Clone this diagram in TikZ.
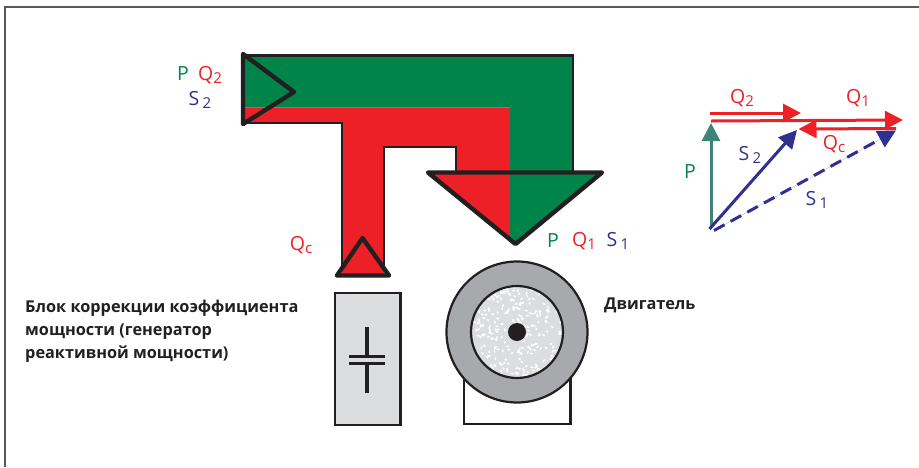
\documentclass[tikz,border=0pt]{standalone}
\usepackage{fontspec}
\setmainfont{Open Sans}
\usetikzlibrary{arrows.meta}
\definecolor{pipegreen}{HTML}{00844A}
\definecolor{pipered}{HTML}{ED2027}
\definecolor{vecblue}{HTML}{2E3192}
\definecolor{vecteal}{HTML}{3F8577}
\definecolor{inkblack}{HTML}{231F20}
\definecolor{boxgray}{HTML}{DCDDDF}
\definecolor{ringgray}{HTML}{A7A9AC}
\newcommand{\idx}[1]{\raisebox{-3pt}{\fontsize{15}{15}\selectfont #1}}
\tikzset{
  lbl/.style={inner sep=0pt,font=\fontsize{19.5}{20}\selectfont},
  note/.style={inner sep=0pt,align=left,anchor=north west,font=\fontsize{16.3}{23}\selectfont\bfseries,text=inkblack},
  edge/.style={line width=2.2pt,draw=inkblack},
  tip/.style={line width=4.4pt,draw=inkblack,line join=round,line cap=round},
  vec/.style={line width=3pt,-{Triangle[length=18pt,width=18pt]}}
}
\begin{document}
\begin{tikzpicture}[x=1pt,y=-1pt]
\useasboundingbox (0,0) rectangle (919,467);
\draw[line width=1.6pt,draw=inkblack!75] (919,7) -- (5,7) -- (5,467);
\fill[pipered] (243,107.5) -- (510,107.5) -- (510,239.5) -- (428,172) -- (456,172) -- (456,147) -- (384,147) -- (384,275) -- (342,275) -- (342,123) -- (243,123) -- cycle;
\fill[pipegreen] (243,55.5) -- (573,55.5) -- (573,172) -- (602,172) -- (515.5,244) -- (510,239.5) -- (510,107.5) -- (243,107.5) -- cycle;
\draw[edge] (243,123) -- (342,123) -- (342,270);
\draw[edge] (384,270) -- (384,147) -- (456,147) -- (456,172);
\draw[edge] (243,55.5) -- (573,55.5) -- (573,172);
\draw[tip] (243,54) -- (294,92) -- (243,124) -- cycle;
\draw[tip] (428,172.5) -- (602,172.5) -- (515.5,244) -- cycle;
\draw[tip] (362.5,238) -- (389,275.5) -- (337,275.5) -- cycle;
\node[lbl,text=pipegreen] (lblp2) at (183,74) {P};
\node[lbl,text=pipered] (lblq2) at (210,75) {Q\idx{2}};
\node[lbl,text=vecblue] (lbls2) at (200,100) {S\,\idx{2}};
\node[lbl,text=pipered] (lblqc) at (301,245) {Q\idx{c}};
\node[lbl,text=pipegreen] (lblp1) at (553,241) {P};
\node[lbl,text=pipered] (lblq1) at (584,241) {Q\idx{1}};
\node[lbl,text=vecblue] (lbls1) at (618,241) {S\,\idx{1}};
\node[note] (blocktext) at (25,299.5) {Блок коррекции коэффициента\\мощности (генератор\\реактивной мощности)};
\node[note] (motortext) at (604,298) {Двигатель};
\draw[edge,fill=boxgray] (335,293) rectangle (400.5,425);
\draw[line width=3.2pt,draw=inkblack] (367,327) -- (367,356.5);
\draw[line width=3.2pt,draw=inkblack] (367,363.5) -- (367,393);
\draw[line width=3pt,draw=inkblack] (349,356.5) -- (385,356.5);
\draw[line width=3pt,draw=inkblack] (349,363.5) -- (385,363.5);
\draw[edge] (464,370) -- (464,424) -- (570.5,424) -- (570.5,370);
\node[circle,draw=inkblack,line width=2.2pt,fill=ringgray,minimum size=141pt,inner sep=0pt] (motor) at (517,332) {};
\node[circle,draw=inkblack,line width=2.2pt,fill=boxgray,minimum size=92pt,inner sep=0pt] (rotor) at (517,332) {};
\begin{scope}
\clip (517,332) circle (44.5);
\pgfmathsetseed{4711}
\foreach \n in {1,...,240}{
  \pgfmathsetmacro{\ang}{rnd*360}
  \pgfmathsetmacro{\rad}{45*sqrt(rnd)}
  \pgfmathsetmacro{\rot}{rnd*180}
  \fill[white,shift={({517+\rad*cos(\ang)},{332+\rad*sin(\ang)})},rotate=\rot] (0,0) ellipse (1.9 and 1);
}
\end{scope}
\node[circle,fill=inkblack,minimum size=18pt,inner sep=0pt] (shaft) at (517,332) {};
\coordinate (orig) at (709.5,229);
\coordinate (orig1) at (714,230.5);
\coordinate (q2a) at (710,113);
\coordinate (q2b) at (801,113);
\coordinate (q1a) at (711,121);
\coordinate (q1b) at (903,120);
\coordinate (qca) at (896,128.5);
\coordinate (qcb) at (798.5,129);
\coordinate (pa) at (711,227);
\coordinate (pb) at (711,123);
\coordinate (s2b) at (797,130);
\coordinate (s1b) at (896,130.5);
\draw[vec,draw=pipered,fill=pipered] (q2a) -- (q2b);
\draw[vec,draw=pipered,fill=pipered] (q1a) -- (q1b);
\draw[vec,draw=pipered,fill=pipered] (qca) -- (qcb);
\draw[vec,draw=vecteal,fill=vecteal] (pa) -- (pb);
\draw[vec,draw=vecblue,fill=vecblue] (orig) -- (s2b);
\draw[vec,draw=vecblue,fill=vecblue,dash pattern=on 12pt off 7pt] (orig1) -- (s1b);
\node[lbl,text=pipered] (vq2) at (742,98) {Q\idx{2}};
\node[lbl,text=pipered] (vq1) at (858,98) {Q\idx{1}};
\node[lbl,text=pipered] (vqc) at (834,144) {Q\idx{c}};
\node[lbl,text=vecblue] (vs2) at (750,155) {S\,\idx{2}};
\node[lbl,text=vecblue] (vs1) at (817,200) {S\,\idx{1}};
\node[lbl,text=pipegreen] (vp) at (690,172) {P};
\end{tikzpicture}
\end{document}
